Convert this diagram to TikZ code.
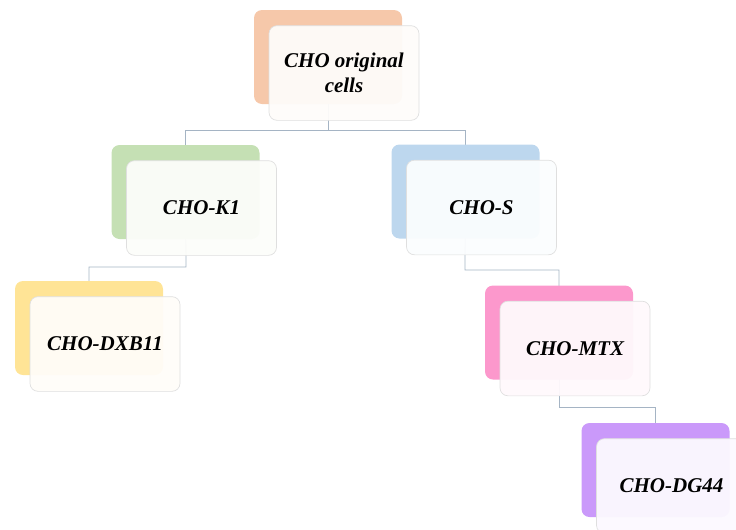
\documentclass[tikz,border=0pt]{standalone}
\usepackage{fontspec}
\setmainfont{Liberation Serif}
\usepackage{tikz}
\usetikzlibrary{backgrounds}
\definecolor{peach}{RGB}{246,200,170}
\definecolor{leaf}{RGB}{197,224,180}
\definecolor{sky}{RGB}{189,215,238}
\definecolor{butter}{RGB}{255,228,150}
\definecolor{rose}{RGB}{252,152,204}
\definecolor{lilac}{RGB}{202,153,250}
\definecolor{wire}{RGB}{165,180,196}

\begin{document}
\begin{tikzpicture}[
      x=0.75pt, y=-0.75pt,
      backbox/.style={
        rectangle, rounded corners=6pt,
        minimum width=111pt, minimum height=70.5pt
      },
      frontbox/.style={
        rectangle, rounded corners=6pt, draw=gray!25, line width=0.5pt,
        fill opacity=0.95, text opacity=1,
        minimum width=112.5pt, minimum height=71pt,
        align=center, font=\fontsize{15.75}{18.5}\selectfont\bfseries\itshape
      },
      link/.style={draw=wire, line width=0.6pt}
    ]
      \clip (0,0) rectangle (736,529);
      % back card, then the lighter card on top of it
      \foreach \nm/\x/\y/\col/\txt in {
          root/328/57/peach/{CHO original\\cells},
          k1/185.5/192/leaf/{CHO-K1},
          s/465.5/191.5/sky/{CHO-S},
          dxb/89/328/butter/{CHO-DXB11},
          mtx/559/332.5/rose/{CHO-MTX},
          dg/655.5/470/lilac/{CHO-DG44}} {
        \node[backbox, fill=\col] (\nm b) at (\x,\y){};
        \node[frontbox, fill=\col!6!white] (\nm) at ([shift={(16,16)}]\nm b){\txt};
      }
      \coordinate (j0) at (328,130);
      \coordinate (j1) at (186,267);
      \coordinate (j2) at (465,270);
      \coordinate (j3) at (559,407);

      \begin{scope}[on background layer]
        \draw[link] (rootb.center) -- (j0) -| (k1b.center);
        \draw[link] (j0) -| (sb.center);
        \draw[link] (k1b.center) -- (j1) -| (dxbb.center);
        \draw[link] (sb.center) -- (j2) -| (mtxb.center);
        \draw[link] (mtxb.center) -- (j3) -| (dgb.center);
      \end{scope}
    \end{tikzpicture}
\end{document}
